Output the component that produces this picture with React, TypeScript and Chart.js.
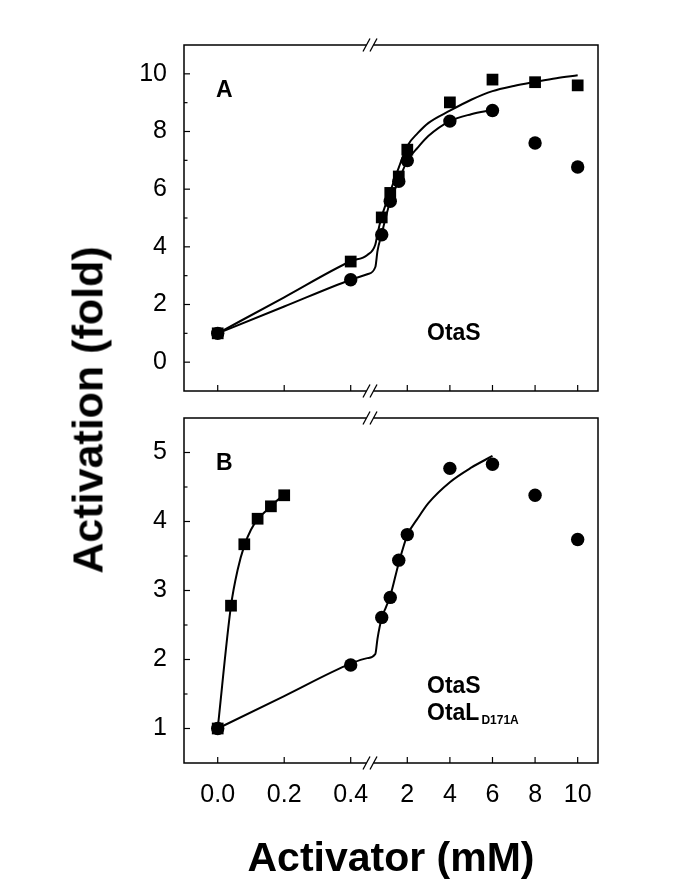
import React, { useEffect, useRef } from 'react';
import { Chart, registerables } from 'chart.js';

Chart.register(...registerables);

// ---------- data ----------
const xTickValues = [0, 0.2, 0.4, 2, 4, 6, 8, 10];
const xTickLabels = ['0.0', '0.2', '0.4', '2', '4', '6', '8', '10'];

const concX = [0, 0.4, 0.8, 1.2, 1.6, 2, 4, 6, 8, 10];
const aSquares = [1.0, 3.49, 5.02, 5.87, 6.44, 7.37, 9.01, 9.8, 9.71, 9.6];
const aCircles = [1.0, 2.86, 4.42, 5.58, 6.27, 6.99, 8.36, 8.73, 7.6, 6.77];

const aSquareFitX = [0, 0.2, 0.4, 0.45, 0.5, 0.6, 0.8, 1.0, 1.2, 1.6, 2, 2.5, 3, 4, 5, 6, 7, 8, 9, 10];
const aSquareFitY = [1.0, 2.25, 3.5, 3.72, 4.08, 4.45, 5.05, 5.5, 5.92, 6.75, 7.5, 7.95, 8.3, 8.72, 9.1, 9.4, 9.58, 9.72, 9.85, 9.95];

const aCircleFitX = [0, 0.2, 0.4, 0.45, 0.5, 0.6, 0.8, 1.0, 1.2, 1.6, 2, 2.5, 3, 4, 5, 6];
const aCircleFitY = [1.0, 1.93, 2.86, 3.05, 3.3, 3.85, 4.45, 5.05, 5.58, 6.3, 6.99, 7.45, 7.85, 8.36, 8.6, 8.75];

const bSquareX = [0, 0.04, 0.08, 0.12, 0.16, 0.2];
const bSquares = [1.0, 2.78, 3.67, 4.04, 4.22, 4.38];
const bCircles = [1.0, 1.92, 2.61, 2.9, 3.44, 3.81, 4.77, 4.83, 4.38, 3.74];

const bSquareFitX = [0, 0.04, 0.06, 0.08, 0.1, 0.12, 0.14, 0.16, 0.18, 0.2];
const bSquareFitY = [1.0, 2.78, 3.3, 3.65, 3.88, 4.03, 4.13, 4.22, 4.31, 4.38];

const bCircleFitX = [0, 0.2, 0.4, 0.45, 0.5, 0.6, 0.8, 1.0, 1.2, 1.6, 2, 2.5, 3, 4, 5, 6];
const bCircleFitY = [1.0, 1.47, 1.94, 2.02, 2.08, 2.3, 2.6, 2.76, 2.92, 3.4, 3.8, 4.05, 4.27, 4.57, 4.78, 4.95];

// ---------- broken-axis transform ----------
const FONT = '"Liberation Sans", Arial, Helvetica, sans-serif';
const U_MIN = -0.507;
const U_MAX = 5.719;
const U_BREAK = 2.29;
const toU = (x: number) => (x <= 0.45 ? x / 0.2 : 2.851 + (x - 2) * 0.3203);
const pts = (xs: number[], ys: number[]) => xs.map((x, i) => ({ x: toU(x), y: ys[i] }));

type TextItem = { text: string; x: number; y: number; size: number; sub?: string };

function makePlugin(isMajor: (v: number) => boolean, texts: TextItem[]) {
  return {
    id: 'frameDeco',
    afterDraw(chart: any) {
      const { ctx, chartArea: a, scales } = chart;
      ctx.save();
      ctx.strokeStyle = '#000';
      ctx.lineWidth = 1.5;
      ctx.strokeRect(a.left, a.top, a.right - a.left, a.bottom - a.top);
      ctx.lineWidth = 1.2;
      const ys = scales.y;
      ys.ticks.forEach((t: any) => {
        if (t.value <= ys.min + 1e-9 || t.value >= ys.max - 1e-9) return;
        const p = ys.getPixelForValue(t.value);
        const len = isMajor(t.value) ? 6 : 3.5;
        ctx.beginPath();
        ctx.moveTo(a.left, p);
        ctx.lineTo(a.left + len, p);
        ctx.stroke();
      });
      const xs = scales.x;
      xs.ticks.forEach((t: any) => {
        const p = xs.getPixelForValue(t.value);
        ctx.beginPath();
        ctx.moveTo(p, a.bottom);
        ctx.lineTo(p, a.bottom - 6);
        ctx.stroke();
      });
      // axis break marks
      const c = xs.getPixelForValue(U_BREAK);
      [a.top, a.bottom].forEach((y: number) => {
        ctx.fillStyle = '#fff';
        ctx.fillRect(c - 3.5, y - 1.5, 7, 3);
        ctx.lineWidth = 1.3;
        [c - 3.5, c + 3.5].forEach((sx) => {
          ctx.beginPath();
          ctx.moveTo(sx - 3.5, y + 6.5);
          ctx.lineTo(sx + 3.5, y - 6.5);
          ctx.stroke();
        });
      });
      // annotations
      ctx.fillStyle = '#000';
      ctx.textBaseline = 'alphabetic';
      ctx.textAlign = 'left';
      texts.forEach((t) => {
        ctx.font = `bold ${t.size}px ${FONT}`;
        ctx.fillText(t.text, t.x, t.y);
        if (t.sub) {
          const w = ctx.measureText(t.text).width;
          ctx.font = `bold 12px ${FONT}`;
          ctx.fillText(t.sub, t.x + w + 2, t.y + 3.5);
        }
      });
      ctx.restore();
    },
  };
}

const markerSq = { pointStyle: 'rect', pointRadius: 8.3, backgroundColor: '#000', borderColor: '#000', borderWidth: 0, showLine: false };
const markerCi = { pointStyle: 'circle', pointRadius: 6.7, backgroundColor: '#000', borderColor: '#000', borderWidth: 0, showLine: false };
const curve = { showLine: true, pointRadius: 0, borderColor: '#000', borderWidth: 2, cubicInterpolationMode: 'monotone', fill: false };

function xScale(showLabels: boolean, height: number) {
  return {
    type: 'linear',
    min: U_MIN,
    max: U_MAX,
    grid: { display: false, drawTicks: false },
    border: { display: false },
    afterBuildTicks: (s: any) => {
      s.ticks = xTickValues.map((v) => ({ value: toU(v) }));
    },
    ticks: {
      display: showLabels,
      autoSkip: false,
      maxRotation: 0,
      padding: 17,
      color: '#000',
      font: { family: FONT, size: 25 },
      callback: (_v: any, i: number) => xTickLabels[i],
    },
    title: showLabels
      ? { display: true, text: 'Activator (mM)', color: '#000', font: { family: FONT, size: 41, weight: 'bold' }, padding: { top: 0, bottom: 8 } }
      : { display: false },
    afterFit: (s: any) => {
      s.height = height;
      s.paddingLeft = 0;
      s.paddingRight = 0;
    },
  };
}

function yScale(min: number, max: number, step: number, isMajor: (v: number) => boolean) {
  return {
    min,
    max,
    grid: { display: false, drawTicks: false },
    border: { display: false },
    ticks: {
      stepSize: step,
      autoSkip: false,
      padding: 17,
      color: '#000',
      font: { family: FONT, size: 25 },
      callback: (v: any) => (isMajor(Number(v)) && v > min && v < max ? String(v) : ''),
    },
    afterFit: (s: any) => {
      s.width = 184;
      s.paddingTop = 0;
      s.paddingBottom = 0;
    },
  };
}

const majorA = (v: number) => Math.abs(v % 2) < 1e-9;
const majorB = (v: number) => Math.abs(v - Math.round(v)) < 1e-9;

function configA(): any {
  return {
    type: 'scatter',
    data: {
      datasets: [
        { ...markerSq, data: pts(concX, aSquares) },
        { ...markerCi, data: pts(concX, aCircles) },
        { ...curve, data: pts(aSquareFitX, aSquareFitY) },
        { ...curve, data: pts(aCircleFitX, aCircleFitY) },
      ],
    },
    options: {
      animation: false,
      responsive: false,
      maintainAspectRatio: false,
      layout: { padding: { left: 0, top: 45, right: 87, bottom: 0 } },
      plugins: { legend: { display: false }, tooltip: { enabled: false } },
      scales: { x: xScale(false, 14), y: yScale(-1, 11, 1, majorA) },
    },
    plugins: [
      makePlugin(majorA, [
        { text: 'A', x: 216, y: 96.5, size: 23 },
        { text: 'OtaS', x: 427, y: 340, size: 23 },
      ]),
    ],
  };
}

function configB(): any {
  return {
    type: 'scatter',
    data: {
      datasets: [
        { ...markerSq, data: pts(bSquareX, bSquares) },
        { ...markerCi, data: pts(concX, bCircles) },
        { ...curve, data: pts(bSquareFitX, bSquareFitY) },
        { ...curve, data: pts(bCircleFitX, bCircleFitY) },
      ],
    },
    options: {
      animation: false,
      responsive: false,
      maintainAspectRatio: false,
      layout: { padding: { left: 0, top: 13, right: 87, bottom: 0 } },
      plugins: { legend: { display: false }, tooltip: { enabled: false } },
      scales: { x: xScale(true, 129), y: yScale(0.5, 5.5, 0.5, majorB) },
    },
    plugins: [
      makePlugin(majorB, [
        { text: 'B', x: 216, y: 65, size: 23 },
        { text: 'OtaS', x: 427, y: 288, size: 23 },
        { text: 'OtaL', x: 427, y: 315, size: 23, sub: 'D171A' },
      ]),
    ],
  };
}

function ChartCanvas({ make, top, height }: { make: () => any; top: number; height: number }) {
  const ref = useRef<HTMLCanvasElement | null>(null);
  useEffect(() => {
    if (!ref.current) return;
    const chart = new Chart(ref.current, make());
    return () => chart.destroy();
  }, [make]);
  return (
    <canvas
      ref={ref}
      width={685}
      height={height}
      style={{ position: 'absolute', left: 0, top, width: 685, height, display: 'block' }}
    />
  );
}

export default function App() {
  return (
    <div style={{ position: 'absolute', left: 0, top: 0, width: 685, height: 892, background: '#fff', overflow: 'hidden' }}>
      <ChartCanvas make={configA} top={0} height={405} />
      <ChartCanvas make={configB} top={405} height={487} />
      <div
        style={{
          position: 'absolute',
          left: 88,
          top: 410,
          transform: 'translate(-50%, -50%) rotate(-90deg)',
          whiteSpace: 'nowrap',
          fontFamily: FONT,
          fontWeight: 'bold',
          fontSize: 43,
          lineHeight: 1,
          color: '#000',
        }}
      >
        Activation (fold)
      </div>
    </div>
  );
}
